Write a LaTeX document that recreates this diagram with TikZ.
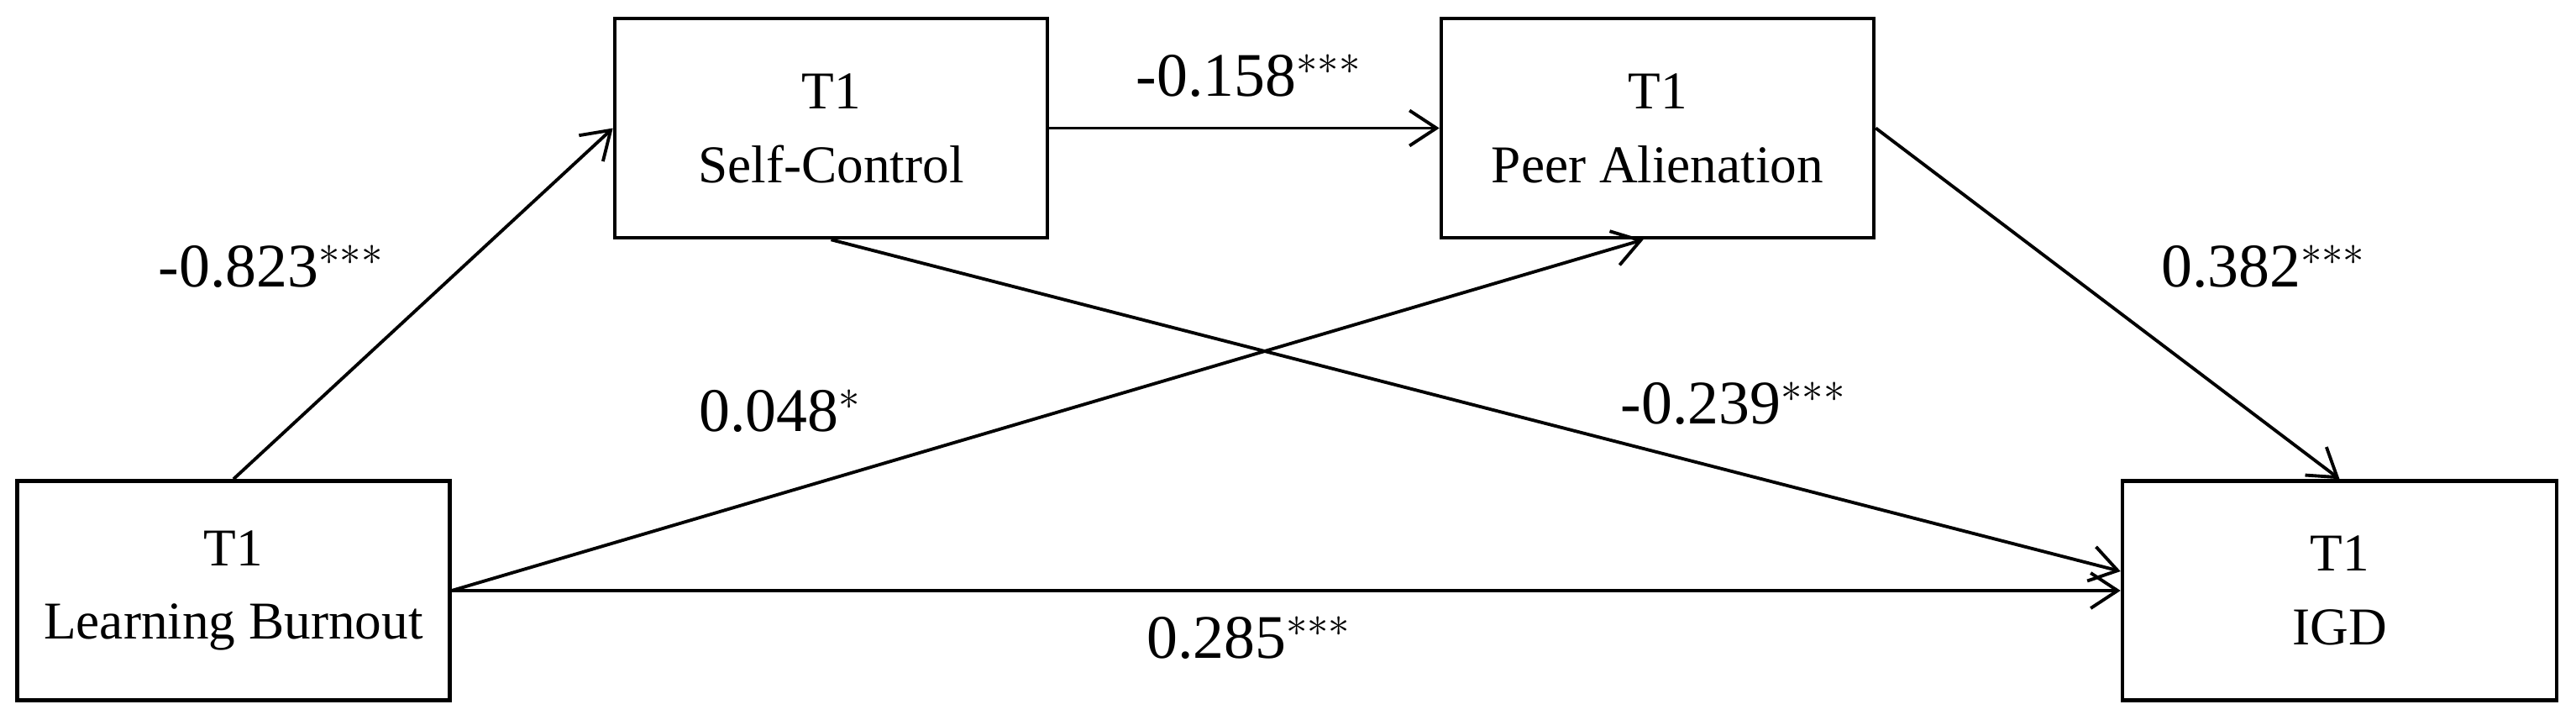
\documentclass[tikz,border=0pt]{standalone}
\usepackage{fontspec}
\setmainfont{Liberation Serif}
\usetikzlibrary{arrows.meta}
\begin{document}
\begin{tikzpicture}[
  box/.style={draw, line width=1.3pt, minimum width=5.15cm, minimum height=2.61cm, align=center, font=\fontsize{18}{25}\selectfont, inner sep=0pt},
  conn/.style={line width=1.1pt, -{Straight Barb[length=0.32cm, width=0.42cm, line width=1.1pt]}},
  lab/.style={font=\fontsize{21}{25}\selectfont}
]
\useasboundingbox (0,0) rectangle (30.67,8.56);
\node[box] (lb) at (2.78,1.53) {T1\\Learning Burnout};
\node[box] (sc) at (9.895,7.035) {T1\\Self-Control};
\node[box] (pa) at (19.735,7.035) {T1\\Peer Alienation};
\node[box, minimum width=5.17cm] (igd) at (27.855,1.53) {T1\\IGD};
\draw[conn] (lb.north) -- (sc.west);
\draw[conn] (sc.east) -- (pa.west);
\draw[conn] (sc.south) -- ([yshift=0.23cm]igd.west);
\draw[conn] (lb.east) -- ([xshift=-0.17cm]pa.south);
\draw[conn] (lb.east) -- (igd.west);
\draw[conn] (pa.east) -- (igd.north);
\node[lab] (l1) at (3.23,5.39) {-0.823$^{***}$};
\node[lab] (l2) at (14.87,7.66) {-0.158$^{***}$};
\node[lab] (l3) at (9.29,3.67) {0.048$^{*}$};
\node[lab] (l4) at (20.64,3.76) {-0.239$^{***}$};
\node[lab] (l5) at (26.95,5.39) {0.382$^{***}$};
\node[lab] (l6) at (14.87,0.97) {0.285$^{***}$};
\end{tikzpicture}
\end{document}
